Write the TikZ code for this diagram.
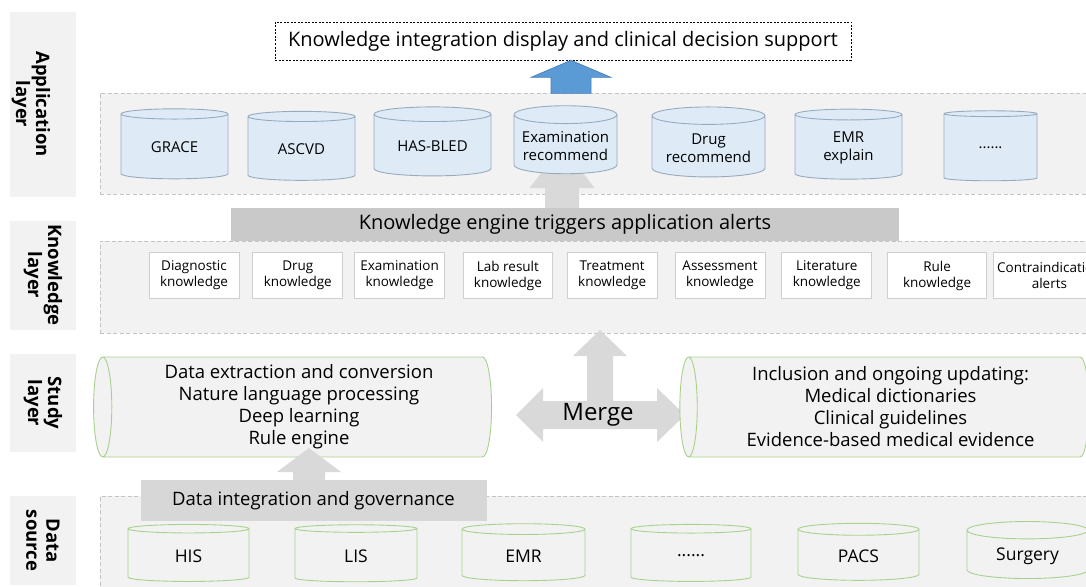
\documentclass[tikz,border=0pt]{standalone}
\usepackage{fontspec}
\setmainfont{Open Sans}
\usetikzlibrary{shapes.geometric,positioning}

\definecolor{panelfill}{HTML}{F2F2F2}
\definecolor{paneledge}{HTML}{C4C4C4}
\definecolor{cylblue}{HTML}{DEEBF7}
\definecolor{cylblueedge}{HTML}{97AABE}
\definecolor{boxedge}{HTML}{CFCFCF}
\definecolor{enginegray}{HTML}{C9C9C9}
\definecolor{govgray}{HTML}{D7D7D7}
\definecolor{arrowgray}{HTML}{D9D9D9}
\definecolor{cylgreen}{HTML}{A9D18E}
\definecolor{arrowblue}{HTML}{5B9BD5}
\definecolor{arrowblueedge}{HTML}{4A7EBB}

\begin{document}
\begin{tikzpicture}[x=1pt,y=-1pt,
    layerbox/.style={fill=panelfill,rotate=-90,minimum height=66pt,align=center,
        font=\bfseries\fontsize{18.5}{20}\selectfont},
    panel/.style={draw=paneledge,line width=0.8pt,dash pattern=on 4pt off 2.5pt,
        fill=panelfill,minimum width=992pt},
    appcyl/.style={cylinder,shape border rotate=90,aspect=0.19,draw=cylblueedge,
        line width=0.9pt,fill=cylblue,align=center,font=\fontsize{15}{18}\selectfont},
    srccyl/.style={cylinder,shape border rotate=90,aspect=0.25,draw=cylgreen,
        line width=0.9pt,fill=panelfill,font=\fontsize{17.5}{20}\selectfont},
    studycyl/.style={cylinder,shape border rotate=180,aspect=0.2,draw=cylgreen,
        line width=0.9pt,fill=panelfill,align=center,font=\fontsize{18.5}{22}\selectfont},
    knowbox/.style={draw=boxedge,line width=0.8pt,fill=white,align=center,
        minimum height=46pt,inner sep=0pt,font=\fontsize{13.5}{16}\selectfont},
    banner/.style={inner sep=0pt,font=\fontsize{20}{24}\selectfont},
    blockarrow/.style={fill=arrowgray}]

\useasboundingbox (0,0) rectangle (1086,586);
\fill[white] (0,0) rectangle (1086,586);
\clip (0,0) rectangle (1086,586);

\node[layerbox,minimum width=185pt] (applab) at (43,104.5) {};
\node[layerbox,fill=none] (apptext) at (31,104) {Application\\layer};
\node[layerbox,minimum width=109pt] (knowlab) at (43,275) {Knowledge\\layer};
\node[layerbox,minimum width=98pt] (studylab) at (43,403) {Study\\layer};
\node[layerbox,minimum width=89pt] (datalab) at (43,540.5) {Data\\source};

\node[panel,minimum height=101pt] (apppanel) at (596,143.5) {};
\node[panel,minimum height=92pt] (knowpanel) at (596,287) {};
\node[panel,minimum height=95pt] (datapanel) at (596,543.5) {};

\node[draw,line width=0.7pt,dash pattern=on 2pt off 1.5pt,fill=white,minimum width=576pt,
    minimum height=38pt,font=\fontsize{20}{24}\selectfont] (integ) at (563,41)
    {Knowledge integration display and clinical decision support};

\coordinate (examtip) at (562,146);
\fill[blockarrow] (examtip) -- ++(32.5,42) -- ++(-15.5,0) -- ++(0,30) -- ++(-34,0)
    -- ++(0,-30) -- ++(-15.5,0) -- cycle;
\draw[fill=arrowblue,draw=arrowblueedge,line width=0.7pt] ([xshift=8pt]integ.south)
    -- ++(40,17) -- ++(-20,0) -- ++(0,16) -- ++(-40,0) -- ++(0,-16) -- ++(-20,0) -- cycle;

\node[appcyl,minimum width=107pt,minimum height=70pt] (grace) at (174.5,147.5) {GRACE};
\node[appcyl,minimum width=107pt,minimum height=69pt] (ascvd) at (301.5,149.5) {ASCVD};
\node[appcyl,minimum width=117pt,minimum height=69pt] (hasbled) at (432.5,146.5) {HAS-BLED};
\node[appcyl,minimum width=103pt,minimum height=68pt] (exam) at (565.5,146) {Examination\\recommend};
\node[appcyl,minimum width=113pt,minimum height=70pt] (drugrec) at (708.5,148) {Drug\\recommend};
\node[appcyl,minimum width=107pt,minimum height=70pt] (emrexp) at (848.5,148) {EMR\\explain};
\node[appcyl,minimum width=93pt,minimum height=70pt] (moreapp) at (990.5,148) {......};

\node[banner,fill=enginegray,minimum width=668pt,minimum height=33pt] (engine) at (565,224.5)
    {Knowledge engine triggers application alerts};

\node[knowbox,minimum width=90pt] (diagk) at (194,275.5) {Diagnostic\\knowledge};
\node[knowbox,minimum width=90pt,right=13pt of diagk] (drugk) {Drug\\knowledge};
\node[knowbox,minimum width=90pt,right=11pt of drugk] (examk) {Examination\\knowledge};
\node[knowbox,minimum width=89pt,right=18pt of examk] (labk) {Lab result\\knowledge};
\node[knowbox,minimum width=90pt,right=14pt of labk] (treatk) {Treatment\\knowledge};
\node[knowbox,minimum width=90pt,right=17pt of treatk] (assessk) {Assessment\\knowledge};
\node[knowbox,minimum width=90pt,right=16pt of assessk] (litk) {Literature\\knowledge};
\node[knowbox,minimum width=99pt,right=15pt of litk] (rulek) {Rule\\knowledge};
\node[knowbox,minimum width=112pt,right=6pt of rulek] (contrak) {Contraindication\\alerts};

\coordinate (mergept) at (600,415);
\fill[blockarrow] ([yshift=85pt]mergept) -- ++(27,26) -- ++(-14,0) -- ++(0,45) -- ++(44,0)
    -- ++(0,-13) -- ++(28,27) -- ++(-28,27) -- ++(0,-13) -- ++(-114,0) -- ++(0,13)
    -- ++(-27,-27) -- ++(27,-27) -- ++(0,13) -- ++(44,0) -- ++(0,-45) -- ++(-14,0) -- cycle;
\node[font=\fontsize{24}{28}\selectfont] (merge) at ([xshift=-2pt]mergept) {Merge};

\node[studycyl,minimum height=398pt,minimum width=100pt] (learn) at (299,407)
    {Data extraction and conversion\\Nature language processing\\Deep learning\\Rule engine};
\node[studycyl,minimum height=409pt,minimum width=100pt] (kbase) at (890.5,407)
    {Inclusion and ongoing updating:\\Medical dictionaries\\Clinical guidelines\\Evidence-based medical evidence};

\coordinate (govtip) at (309,448);
\fill[blockarrow] (govtip) -- ++(32,24) -- ++(-16,0) -- ++(0,20) -- ++(-32,0) -- ++(0,-20)
    -- ++(-16,0) -- cycle;
\node[banner,fill=govgray,minimum width=346pt,minimum height=41pt,
    font=\fontsize{18.5}{22}\selectfont] (govern) at (313.5,500.5) {Data integration and governance};

\node[srccyl,minimum width=121pt,minimum height=57pt] (his) at (188.5,556) {HIS};
\node[srccyl,minimum width=122pt,minimum height=57pt] (lis) at (356,556) {LIS};
\node[srccyl,minimum width=123pt,minimum height=57pt] (emrsrc) at (523.5,556) {EMR};
\node[srccyl,minimum width=120pt,minimum height=57pt] (moresrc) at (691,556) {......};
\node[srccyl,minimum width=121pt,minimum height=57pt] (pacs) at (858.5,556) {PACS};
\node[srccyl,minimum width=121pt,minimum height=57pt] (surgery) at (1027.5,556) {Surgery};
\end{tikzpicture}
\end{document}
